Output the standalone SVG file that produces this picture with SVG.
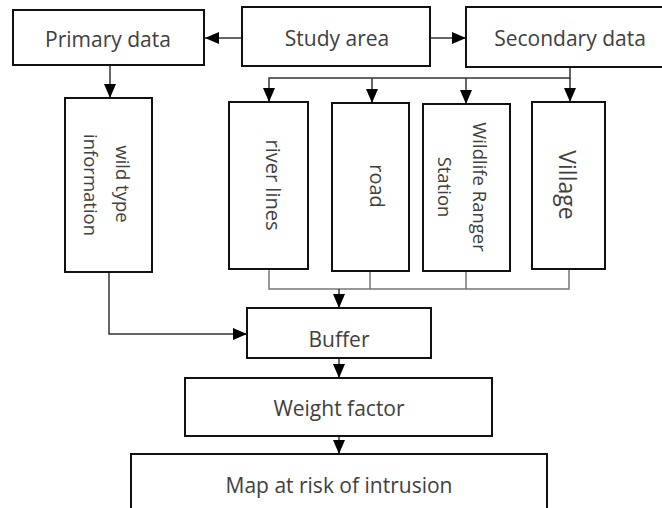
<svg xmlns="http://www.w3.org/2000/svg" width="662" height="508" viewBox="0 0 662 508">
<defs>
<style>
.box{fill:#fff;stroke:#111;stroke-width:2}
.t{font-family:"Open Sans","Noto Sans",sans-serif;font-size:21px;fill:#404040;text-anchor:middle;dominant-baseline:central}
.v{font-size:18.5px}
.c{fill:none;stroke:#777;stroke-width:1.5}
.ca{fill:none;stroke:#333;stroke-width:1.5;marker-end:url(#ah)}
</style>
<marker id="ah" markerUnits="userSpaceOnUse" markerWidth="14" markerHeight="12" refX="14" refY="6" orient="auto">
<path d="M0,0 L14,6 L0,12 z" fill="#000"/>
</marker>
</defs>
<g id="connectors">
<path class="ca" d="M242,38 H205"/>
<path class="ca" d="M430,38 H466"/>
<path class="ca" d="M110,65 V98"/>
<path class="ca" d="M570,67 V78 H269 V102"/>
<path class="ca" d="M372,78 V103"/>
<path class="ca" d="M466,78 V104"/>
<path class="ca" d="M570,78 V102"/>
<path class="c" d="M269,269 V289 H569 V269"/>
<path class="c" d="M370,271 V289"/>
<path class="c" d="M466,271 V289"/>
<path class="ca" d="M339,289 V308"/>
<path class="ca" d="M109,272 V334 H247"/>
<path class="ca" d="M339,358 V378"/>
<path class="ca" d="M339,436 V454"/>
</g>
<g id="primary"><rect class="box" x="13" y="10" width="191" height="55"/><text class="t" x="108" y="39">Primary data</text></g>
<g id="study"><rect class="box" x="242" y="7" width="188" height="59"/><text class="t" x="337" y="38">Study area</text></g>
<g id="secondary"><rect class="box" x="466" y="7" width="198" height="60"/><text class="t" x="570" y="38">Secondary data</text></g>
<g id="wildtype"><rect class="box" x="65" y="98" width="87" height="174"/>
<text class="t v" transform="translate(123,184) rotate(90)">wild type</text>
<text class="t v" transform="translate(91,185) rotate(90)">information</text></g>
<g id="river"><rect class="box" x="229" y="102" width="79" height="167"/><text class="t v" style="font-size:20px" transform="translate(273,185) rotate(90)">river lines</text></g>
<g id="road"><rect class="box" x="332" y="103" width="77" height="168"/><text class="t v" style="font-size:20px" transform="translate(377,186) rotate(90)">road</text></g>
<g id="ranger"><rect class="box" x="423" y="104" width="87" height="167"/>
<text class="t v" transform="translate(480,187) rotate(90)">Wildlife Ranger</text>
<text class="t v" transform="translate(445,187) rotate(90)">Station</text></g>
<g id="village"><rect class="box" x="532" y="102" width="73" height="167"/><text class="t" style="font-size:23px" transform="translate(568,185) rotate(90)">Village</text></g>
<g id="buffer"><rect class="box" x="247" y="308" width="184" height="50"/><text class="t" x="339" y="339">Buffer</text></g>
<g id="weight"><rect class="box" x="185" y="378" width="307" height="58"/><text class="t" x="339" y="408">Weight factor</text></g>
<g id="map"><rect class="box" x="131" y="454" width="416" height="70"/><text class="t" x="339" y="485">Map at risk of intrusion</text></g>
</svg>
